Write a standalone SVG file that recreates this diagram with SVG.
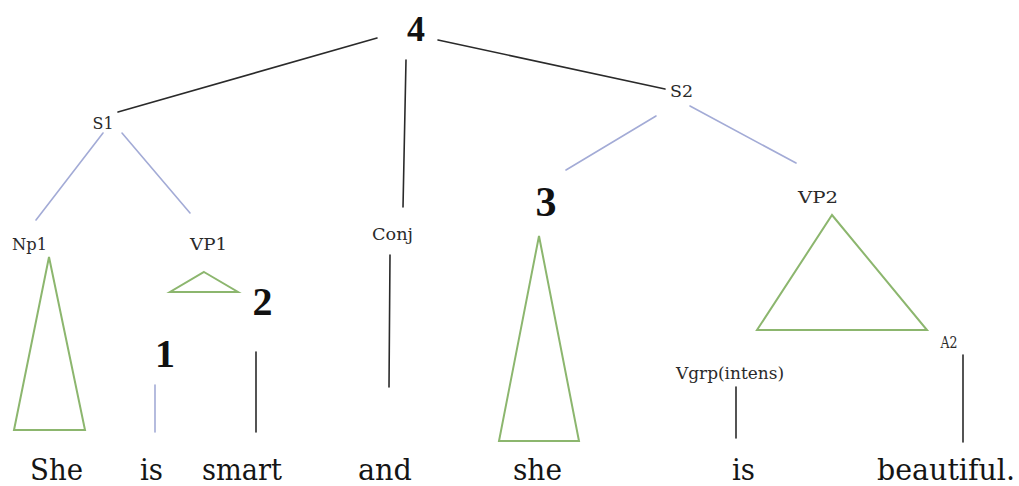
<svg xmlns="http://www.w3.org/2000/svg" width="1019" height="486" viewBox="0 0 1019 486">
<style>
.blk{stroke:#2a2a2a;stroke-width:1.6;fill:none;stroke-linecap:round}
.blu{stroke:#a3abd6;stroke-width:1.6;fill:none;stroke-linecap:round}
.tri{stroke:#8cb66e;stroke-width:2;fill:none;stroke-linejoin:miter}
.lbl{font-size:16px;fill:#2a2a2a;text-anchor:middle;font-family:"DejaVu Serif","Liberation Serif",serif}
.num{font-weight:bold;fill:#111;text-anchor:middle;font-family:"Liberation Serif","DejaVu Serif",serif}
.word{font-size:29px;fill:#151515;text-anchor:middle;font-family:"DejaVu Serif","Liberation Serif",serif}
</style>
<rect width="1019" height="486" fill="#fff"/>
<g id="connectors">
<line class="blk" x1="377" y1="38" x2="118" y2="112"/>
<line class="blk" x1="438" y1="40" x2="665" y2="89"/>
<line class="blk" x1="406" y1="60" x2="403" y2="207"/>
<line class="blu" x1="103" y1="133" x2="36" y2="220"/>
<line class="blu" x1="122" y1="133" x2="190" y2="213"/>
<line class="blu" x1="656" y1="116" x2="566" y2="170"/>
<line class="blu" x1="690" y1="106" x2="796" y2="163"/>
<line class="blk" x1="390" y1="255" x2="389" y2="387"/>
<line class="blu" x1="155" y1="385" x2="155" y2="432"/>
<line class="blk" x1="256" y1="352" x2="256" y2="432"/>
<line class="blk" x1="736" y1="387" x2="736" y2="438"/>
<line class="blk" x1="963" y1="355" x2="963" y2="442"/>
</g>
<g id="n4"><text class="num" x="416" y="41" font-size="36">4</text></g>
<g id="S1"><text class="lbl" x="103" y="129" textLength="21" lengthAdjust="spacingAndGlyphs">S1</text></g>
<g id="S2"><text class="lbl" x="681.5" y="97" textLength="23" lengthAdjust="spacingAndGlyphs">S2</text></g>
<g id="Np1"><text class="lbl" x="29.5" y="250" textLength="35" lengthAdjust="spacingAndGlyphs">Np1</text>
<polygon class="tri" points="49,257 85,430 14,430"/></g>
<g id="VP1"><text class="lbl" x="208.5" y="250" textLength="37" lengthAdjust="spacingAndGlyphs">VP1</text>
<polygon class="tri" points="204,272 238,292 170,292"/></g>
<g id="Conj"><text class="lbl" x="392.5" y="240" textLength="41" lengthAdjust="spacingAndGlyphs">Conj</text></g>
<g id="n3"><text class="num" x="546" y="216" font-size="42">3</text>
<polygon class="tri" points="539,236 579,441 499,441"/></g>
<g id="VP2"><text class="lbl" x="818" y="203" textLength="40" lengthAdjust="spacingAndGlyphs">VP2</text>
<polygon class="tri" points="832,215 927,330 757,330"/></g>
<g id="n2"><text class="num" x="262.5" y="315" font-size="40">2</text></g>
<g id="n1"><text class="num" x="165" y="367" font-size="40">1</text></g>
<g id="Vgrp"><text class="lbl" x="730" y="379" textLength="108" lengthAdjust="spacingAndGlyphs">Vgrp(intens)</text></g>
<g id="A2"><text class="lbl" x="949" y="348" textLength="17" lengthAdjust="spacingAndGlyphs">A2</text></g>
<g id="words">
<text class="word" x="56.5" y="480" textLength="53" lengthAdjust="spacingAndGlyphs">She</text>
<text class="word" x="151.5" y="480" textLength="23" lengthAdjust="spacingAndGlyphs">is</text>
<text class="word" x="242" y="480" textLength="80" lengthAdjust="spacingAndGlyphs">smart</text>
<text class="word" x="385" y="480" textLength="54" lengthAdjust="spacingAndGlyphs">and</text>
<text class="word" x="537.5" y="480" textLength="49" lengthAdjust="spacingAndGlyphs">she</text>
<text class="word" x="743.5" y="480" textLength="23" lengthAdjust="spacingAndGlyphs">is</text>
<text class="word" x="946" y="480" textLength="138" lengthAdjust="spacingAndGlyphs">beautiful.</text>
</g>
</svg>
